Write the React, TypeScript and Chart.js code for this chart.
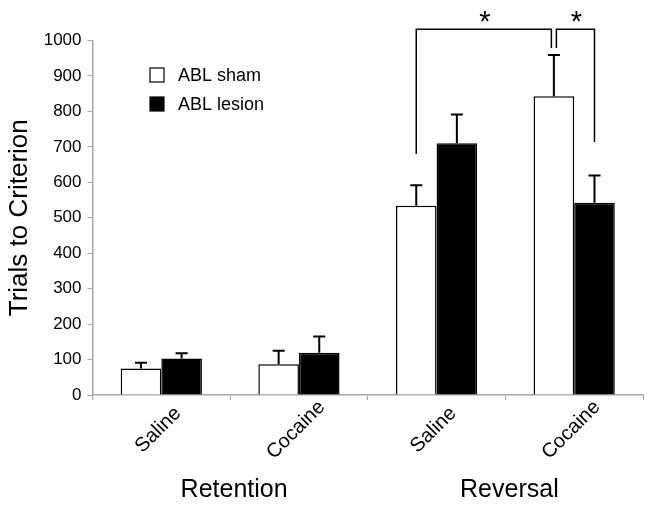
import React, { useEffect, useRef } from 'react';
import { Chart, registerables } from 'chart.js';

Chart.register(...registerables);

const categories = ['Saline', 'Cocaine', 'Saline', 'Cocaine'];
const groups = ['Retention', 'Reversal'];
const seriesNames = ['ABL sham', 'ABL lesion'];
const shamMeans = [75, 87, 534, 843];
const shamErrors = [16, 38, 58, 116];
const lesionMeans = [103, 119, 710, 542];
const lesionErrors = [15, 46, 81, 77];
const yMin = 0;
const yMax = 1000;
const yStep = 100;
// significance brackets: [category, series] endpoints, vertical bottoms (values), top (value)
const bracketLeft = { from: [2, 0], to: [3, 0], fromLow: 680, toLow: 979, top: 1032, mark: '*' };
const bracketRight = { from: [3, 0], to: [3, 1], fromLow: 979, toLow: 714, top: 1032, mark: '*' };
const brackets = [bracketLeft, bracketRight];

const FONT = '"Liberation Sans", Arial, sans-serif';
const AXIS_GRAY = '#a6a6a6';

const overlay = {
  id: 'overlay',
  afterDatasetsDraw(chart: any) {
    const ctx = chart.ctx;
    const ys = chart.scales.y;
    const xs = chart.scales.x;
    ctx.save();
    // error bars
    [shamErrors, lesionErrors].forEach((errs, d) => {
      const meta = chart.getDatasetMeta(d);
      meta.data.forEach((bar: any, i: number) => {
        const v = chart.data.datasets[d].data[i];
        const top = ys.getPixelForValue(v + errs[i]);
        ctx.strokeStyle = '#000';
        ctx.lineWidth = 2;
        ctx.beginPath();
        ctx.moveTo(bar.x, bar.y);
        ctx.lineTo(bar.x, top);
        ctx.moveTo(bar.x - 6, top);
        ctx.lineTo(bar.x + 6, top);
        ctx.stroke();
      });
    });
    // brackets
    brackets.forEach((b, k) => {
      const x1 = chart.getDatasetMeta(b.from[1]).data[b.from[0]].x + (k === 1 ? 2.5 : 0);
      const x2 = chart.getDatasetMeta(b.to[1]).data[b.to[0]].x - (k === 0 ? 2.5 : 0);
      const yTop = ys.getPixelForValue(b.top);
      ctx.strokeStyle = '#000';
      ctx.lineWidth = 1.5;
      ctx.beginPath();
      ctx.moveTo(x1, ys.getPixelForValue(b.fromLow));
      ctx.lineTo(x1, yTop);
      ctx.lineTo(x2, yTop);
      ctx.lineTo(x2, ys.getPixelForValue(b.toLow));
      ctx.stroke();
      ctx.fillStyle = '#000';
      ctx.font = `29px ${FONT}`;
      ctx.textAlign = 'center';
      ctx.textBaseline = 'alphabetic';
      ctx.fillText(b.mark, (x1 + x2) / 2 + 1, yTop + 2);
    });
    // x category labels (rotated)
    ctx.fillStyle = '#000';
    ctx.font = `20px ${FONT}`;
    ctx.textAlign = 'center';
    ctx.textBaseline = 'middle';
    categories.forEach((c, i) => {
      const x = xs.getPixelForValue(i);
      ctx.save();
      ctx.translate(x - 3, 430);
      ctx.rotate(-Math.PI / 4);
      ctx.fillText(c, 0, 0);
      ctx.restore();
    });
    // group labels
    ctx.font = `25px ${FONT}`;
    groups.forEach((g, gi) => {
      const xa = xs.getPixelForValue(gi * 2);
      const xb = xs.getPixelForValue(gi * 2 + 1);
      ctx.fillText(g, (xa + xb) / 2 + 4, 490);
    });
    // legend
    const fills = ['#fff', '#000'];
    ctx.font = `18px ${FONT}`;
    ctx.textAlign = 'left';
    seriesNames.forEach((n, i) => {
      const yy = 68 + i * 29;
      ctx.fillStyle = fills[i];
      ctx.fillRect(150, yy, 14, 14);
      ctx.strokeStyle = '#000';
      ctx.lineWidth = 1.2;
      ctx.strokeRect(150, yy, 14, 14);
      ctx.fillStyle = '#000';
      ctx.fillText(n, 178, yy + 8);
    });
    ctx.restore();
  },
};

export default function App() {
  const ref = useRef<HTMLCanvasElement>(null);
  useEffect(() => {
    if (!ref.current) return;
    const chart = new Chart(ref.current, {
      type: 'bar',
      data: {
        labels: categories,
        datasets: [
          {
            label: seriesNames[0],
            data: shamMeans,
            backgroundColor: '#ffffff',
            borderColor: '#000000',
            borderWidth: 1.5,
            categoryPercentage: 0.59,
            barPercentage: 1,
          },
          {
            label: seriesNames[1],
            data: lesionMeans,
            backgroundColor: '#000000',
            borderColor: '#000000',
            borderWidth: 1.5,
            categoryPercentage: 0.59,
            barPercentage: 1,
          },
        ],
      },
      options: {
        animation: false,
        responsive: false,
        maintainAspectRatio: false,
        layout: { padding: { top: 40.5, right: 4, left: 0, bottom: 0 } },
        plugins: {
          legend: { display: false },
          tooltip: { enabled: false },
        },
        scales: {
          x: {
            ticks: { display: false },
            grid: {
              offset: true,
              drawOnChartArea: false,
              drawTicks: true,
              tickLength: 5,
              color: AXIS_GRAY,
            },
            border: { color: AXIS_GRAY, width: 1.5 },
            afterFit: (scale: any) => {
              scale.height = 113;
            },
          },
          y: {
            min: yMin,
            max: yMax,
            ticks: {
              stepSize: yStep,
              color: '#000',
              font: { family: FONT, size: 17 },
              padding: 6,
              callback: (v: any) => String(v),
            },
            grid: {
              drawOnChartArea: false,
              drawTicks: true,
              tickLength: 5,
              color: AXIS_GRAY,
            },
            border: { color: AXIS_GRAY, width: 1.5 },
            title: {
              display: true,
              text: 'Trials to Criterion',
              color: '#000',
              font: { family: FONT, size: 26 },
              padding: { top: 4, bottom: 4 },
            },
            afterFit: (scale: any) => {
              scale.width = 92.5;
            },
          },
        },
      },
      plugins: [overlay],
    });
    return () => chart.destroy();
  }, []);
  return (
    <div style={{ position: 'absolute', left: 0, top: 0, width: 647, height: 508, background: '#fff' }}>
      <canvas ref={ref} width={647} height={508} style={{ width: 647, height: 508, display: 'block' }} />
    </div>
  );
}
